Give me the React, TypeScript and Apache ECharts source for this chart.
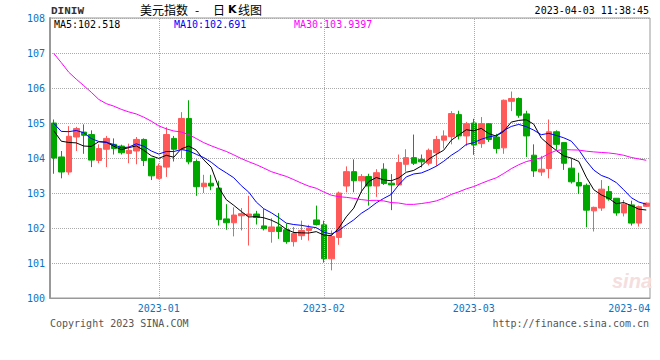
import React, { useEffect, useRef } from "react";
import * as echarts from "echarts";

const dates: string[] = [
  "2022-12-13", "2022-12-14", "2022-12-15", "2022-12-16", "2022-12-19", "2022-12-20", "2022-12-21",
  "2022-12-22", "2022-12-23", "2022-12-26", "2022-12-27", "2022-12-28", "2022-12-29", "2022-12-30",
  "2023-01-02", "2023-01-03", "2023-01-04", "2023-01-05", "2023-01-06", "2023-01-09", "2023-01-10",
  "2023-01-11", "2023-01-12", "2023-01-13", "2023-01-16", "2023-01-17", "2023-01-18", "2023-01-19",
  "2023-01-20", "2023-01-23", "2023-01-24", "2023-01-25", "2023-01-26", "2023-01-27", "2023-01-30",
  "2023-01-31",
  "2023-02-01", "2023-02-02", "2023-02-03", "2023-02-06", "2023-02-07", "2023-02-08", "2023-02-09",
  "2023-02-10", "2023-02-13", "2023-02-14", "2023-02-15", "2023-02-16", "2023-02-17", "2023-02-20",
  "2023-02-21", "2023-02-22", "2023-02-23", "2023-02-24", "2023-02-27", "2023-02-28",
  "2023-03-01", "2023-03-02", "2023-03-03", "2023-03-06", "2023-03-07", "2023-03-08", "2023-03-09",
  "2023-03-10", "2023-03-13", "2023-03-14", "2023-03-15", "2023-03-16", "2023-03-17", "2023-03-20",
  "2023-03-21", "2023-03-22", "2023-03-23", "2023-03-24", "2023-03-27", "2023-03-28", "2023-03-29",
  "2023-03-30", "2023-03-31",
  "2023-04-03",
];

const opens: number[] = [
  105.0, 104.03, 103.6, 104.6, 104.74, 104.67, 103.93, 104.25, 104.39, 104.34,
  104.13, 104.2, 104.53, 103.99, 103.42, 103.74, 104.56, 104.25, 105.13, 103.9,
  103.18, 103.28, 103.14, 102.26, 102.15, 102.35, 102.35, 102.4, 102.06, 101.9,
  102.03, 101.95, 101.61, 101.78, 101.93, 102.23, 102.09, 101.12, 101.73, 103.2,
  103.61, 103.35, 103.47, 103.2, 103.68, 103.28, 103.23, 103.82, 104.01, 103.96,
  103.85, 104.15, 104.51, 104.61, 105.24, 104.63, 105.0, 104.41, 104.98, 104.6,
  104.29, 105.62, 105.7, 105.26, 104.08, 103.6, 103.7, 104.75, 104.44, 103.71,
  103.3, 103.22, 102.49, 102.57, 103.04, 102.85, 102.43, 102.66, 102.14, 102.62,
];

const closes: number[] = [
  104.0, 103.6, 104.62, 104.84, 104.65, 103.94, 104.27, 104.56, 104.27, 104.15,
  104.22, 104.53, 103.93, 103.49, 103.77, 104.67, 104.25, 105.13, 103.89, 103.18,
  103.28, 103.2, 102.24, 102.15, 102.37, 102.41, 102.4, 102.3, 101.98, 102.03,
  101.9, 101.61, 101.84, 101.93, 102.0, 102.1, 101.12, 101.76, 103.0, 103.61,
  103.35, 103.47, 103.2, 103.58, 103.27, 103.23, 103.87, 104.01, 103.85, 103.89,
  104.22, 104.53, 104.63, 105.27, 104.63, 104.98, 104.37, 104.98, 104.53, 104.27,
  105.65, 105.7, 105.22, 104.63, 103.63, 103.68, 104.75, 104.39, 103.85, 103.32,
  103.2, 102.51, 102.59, 103.11, 102.83, 102.43, 102.68, 102.14, 102.61, 102.71,
];

const lows: number[] = [
  103.55, 103.42, 103.52, 104.2, 104.12, 103.74, 103.85, 103.74, 104.1, 104.1,
  103.85, 103.82, 103.77, 103.37, 103.39, 103.46, 103.9, 103.99, 103.82, 102.92,
  103.0, 103.08, 102.07, 101.95, 101.76, 101.93, 101.5, 102.1, 101.93, 101.58,
  101.69, 101.55, 101.47, 101.66, 101.64, 102.07, 101.01, 100.79, 101.52, 103.02,
  103.02, 103.0, 102.64, 102.89, 103.23, 102.51, 103.23, 103.61, 103.8, 103.73,
  103.79, 103.77, 104.27, 104.39, 104.53, 104.34, 104.09, 104.29, 104.46, 104.13,
  104.12, 105.34, 105.15, 104.03, 103.46, 103.49, 103.42, 104.2, 103.66, 103.27,
  102.97, 102.02, 101.9, 102.49, 102.78, 102.35, 102.33, 102.07, 102.04, 102.6,
];

const highs: number[] = [
  105.1, 104.2, 104.91, 104.89, 104.96, 104.79, 104.39, 104.63, 104.56, 104.38,
  104.41, 104.6, 104.56, 104.0, 103.84, 104.88, 104.63, 105.31, 105.65, 103.96,
  103.52, 103.52, 103.35, 102.68, 102.59, 102.57, 102.92, 102.49, 102.54, 102.28,
  102.43, 102.12, 102.03, 102.21, 102.09, 102.64, 102.21, 101.93, 103.04, 103.76,
  103.96, 103.54, 103.55, 103.68, 103.85, 103.54, 104.1, 104.25, 104.67, 104.1,
  104.27, 104.63, 104.79, 105.34, 105.35, 105.03, 105.12, 105.17, 105.0, 104.69,
  105.67, 105.9, 105.73, 105.35, 104.39, 104.06, 105.1, 104.79, 104.44, 103.99,
  103.58, 103.27, 102.61, 103.37, 103.2, 102.85, 102.8, 102.78, 102.64, 102.73,
];

// closes of the 29 sessions before the first candle (needed for the moving averages)
const priorCloses: number[] = [
  111.4, 112.9, 110.8, 110.2, 109.6, 110.4, 108.2, 106.4, 106.9, 106.4,
  106.3, 106.7, 106.9, 107.8, 107.2, 106.1, 106.0, 106.1, 106.6, 106.8,
  105.9, 104.7, 104.5, 105.3, 105.6, 105.1, 104.8, 104.9, 105.1,
];

const maPeriods: number[] = [5, 10, 30];
const maColors: string[] = ["#000000", "#0000ff", "#ff00ff"];
const legendTexts: string[] = ["MA5:102.518", "MA10:102.691", "MA30:103.9397"];
const yTicks = { min: 100, max: 108, step: 1 };

const RED = "#ff5a5a";
const GREEN = "#00a600";
const BLUE_LABEL = "#0a74c4";
const MONO = "'DejaVu Sans Mono', 'Liberation Mono', monospace";

function movingAverage(n: number): number[] {
  const all = priorCloses.concat(closes);
  const off = priorCloses.length;
  return closes.map((_, k) => {
    let s = 0;
    for (let j = off + k - n + 1; j <= off + k; j++) s += all[j];
    return +(s / n).toFixed(4);
  });
}

export default function App() {
  const ref = useRef<HTMLDivElement>(null);
  useEffect(() => {
    if (!ref.current) return;
    const chart = echarts.init(ref.current, null, { renderer: "svg" });
    const isMonthStart = dates.map((d, i) => i > 0 && d.slice(0, 7) !== dates[i - 1].slice(0, 7));
    const lastIdx = dates.length - 1;
    const monthLines = dates
      .filter((d, i) => isMonthStart[i] && i < lastIdx)
      .map((d) => ({ xAxis: d }));
    const candleData = dates.map((_, i) => [opens[i], closes[i], lows[i], highs[i]]);

    const option: any = {
      animation: false,
      backgroundColor: "#ffffff",
      grid: { left: 50, right: 10, top: 18, bottom: 62, show: true, borderColor: "#999", borderWidth: 1 },
      xAxis: {
        type: "category",
        data: dates,
        boundaryGap: true,
        axisLine: { show: true, lineStyle: { color: "#999", width: 1 } },
        axisTick: { show: false },
        splitLine: { show: false },
        axisLabel: {
          interval: (i: number) => isMonthStart[i],
          formatter: (v: string, i: number) =>
            i === lastIdx ? "{last|" + v.slice(0, 7) + "}" : v.slice(0, 7),
          color: BLUE_LABEL,
          fontFamily: MONO,
          fontSize: 10,
          margin: 5,
          rich: {
            last: { color: BLUE_LABEL, fontFamily: MONO, fontSize: 10, padding: [0, 34, 0, 0] },
          },
        },
      },
      yAxis: {
        type: "value",
        min: yTicks.min,
        max: yTicks.max,
        interval: yTicks.step,
        axisLine: { show: true, lineStyle: { color: "#999", width: 2 } },
        axisTick: { show: false },
        axisLabel: { color: BLUE_LABEL, fontFamily: MONO, fontSize: 10, margin: 5 },
        splitLine: { show: true, lineStyle: { type: "dotted", color: "#aaa", width: 1 } },
      },
      series: [
        {
          type: "candlestick",
          data: candleData,
          barWidth: 6,
          itemStyle: { color: RED, color0: GREEN, borderColor: RED, borderColor0: GREEN, borderWidth: 1 },
          markLine: {
            silent: true,
            symbol: ["none", "none"],
            label: { show: false },
            lineStyle: { type: "dotted", color: "#aaa", width: 1 },
            data: monthLines,
          },
        },
        ...maPeriods.map((p, idx) => ({
          type: "line",
          name: "MA" + p,
          data: movingAverage(p),
          showSymbol: false,
          symbol: "none",
          smooth: false,
          lineStyle: { color: maColors[idx], width: 1 },
          itemStyle: { color: maColors[idx] },
          z: 5,
        })),
      ],
      graphic: [
        { type: "text", left: 51, top: 5, style: { text: "DINIW", fill: "#333", font: "bold 11px 'Liberation Mono', monospace" } },
        { type: "text", left: 140, top: 3, style: { text: "美元指数", fill: "#000", font: "12px 'Noto Sans CJK SC'" } },
        { type: "text", left: 195, top: 3, style: { text: "-", fill: "#000", font: "12px 'Noto Sans CJK SC'" } },
        { type: "text", left: 213, top: 3, style: { text: "日", fill: "#000", font: "12px 'Noto Sans CJK SC'" } },
        { type: "text", left: 228, top: 4, style: { text: "K", fill: "#000", font: "bold 11px 'DejaVu Sans', sans-serif" } },
        { type: "text", left: 238, top: 3, style: { text: "线图", fill: "#000", font: "12px 'Noto Sans CJK SC'" } },
        { type: "text", right: 11, top: 5, style: { text: "2023-04-03 11:38:45", fill: "#000", font: "10px " + MONO } },
        { type: "text", left: 54, top: 19, style: { text: legendTexts[0], fill: maColors[0], font: "10px " + MONO } },
        { type: "text", left: 174, top: 19, style: { text: legendTexts[1], fill: maColors[1], font: "10px " + MONO } },
        { type: "text", left: 294, top: 19, style: { text: legendTexts[2], fill: maColors[2], font: "10px " + MONO } },
        { type: "text", left: 612, top: 271, style: { text: "sina", fill: "#f5dede", font: "italic bold 20px 'Liberation Sans', sans-serif" } },
        { type: "text", left: 50, top: 318, style: { text: "Copyright 2023 SINA.COM", fill: "#555", font: "10px " + MONO } },
        { type: "text", right: 11, top: 318, style: { text: "http://finance.sina.com.cn", fill: "#555", font: "10px " + MONO } },
      ],
    };
    chart.setOption(option);
    return () => chart.dispose();
  }, []);
  return <div ref={ref} style={{ position: "fixed", left: 0, top: 0, width: 660, height: 360 }} />;
}
